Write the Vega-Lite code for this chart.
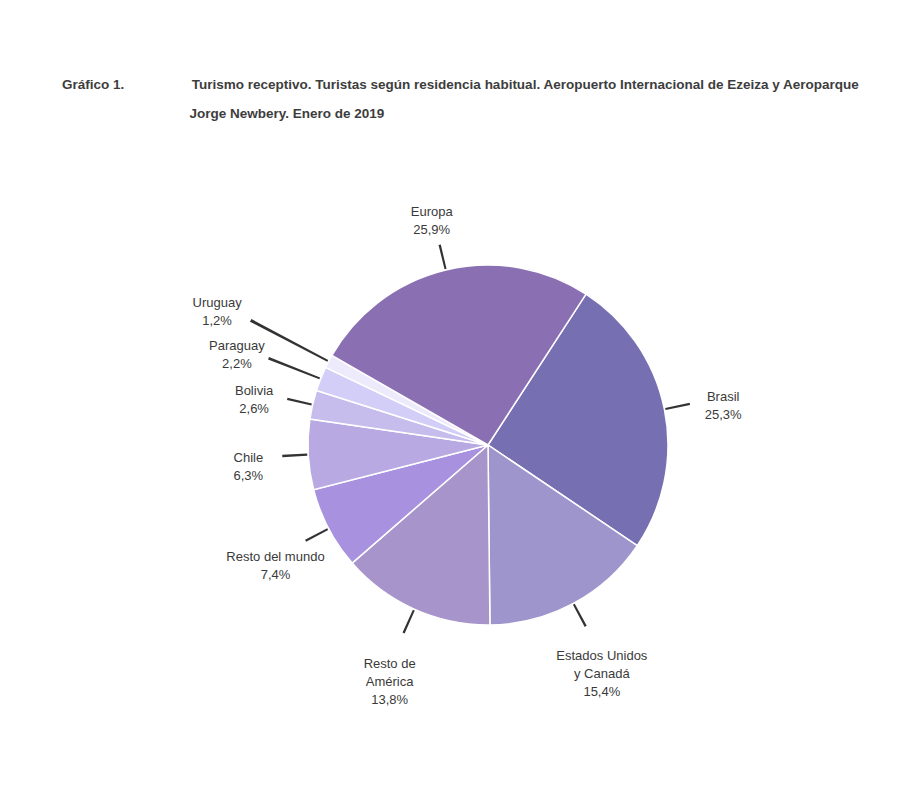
{
  "$schema": "https://vega.github.io/schema/vega-lite/v6.json",
  "autosize": {"type": "none"},
  "width": 852,
  "height": 610,
  "padding": {"left": 62, "top": 140, "right": 0, "bottom": 0},
  "background": "white",
  "config": {
    "view": {"stroke": null},
    "font": "Liberation Sans, Arial, sans-serif"
  },
  "title": {
    "text": [
      "Gráfico 1.\u00a0\u00a0\u00a0\u00a0\u00a0\u00a0\u00a0\u00a0\u00a0\u00a0\u00a0\u00a0\u00a0\u00a0\u00a0\u00a0\u00a0\u00a0Turismo receptivo. Turistas según residencia habitual. Aeropuerto Internacional de Ezeiza y Aeroparque",
      "\u200b\u00a0\u00a0\u00a0\u00a0\u00a0\u00a0\u00a0\u00a0\u00a0\u00a0\u00a0\u00a0\u00a0\u00a0\u00a0\u00a0\u00a0\u00a0\u00a0\u00a0\u00a0\u00a0\u00a0\u00a0\u00a0\u00a0\u00a0\u00a0\u00a0\u00a0\u00a0\u00a0\u00a0\u00a0Jorge Newbery. Enero de 2019"
    ],
    "anchor": "start",
    "frame": "group",
    "fontSize": 13.5,
    "fontWeight": "bold",
    "color": "#3d3d3d",
    "lineHeight": 29,
    "offset": 20
  },
  "data": {
    "values": [
      {"k": 1, "cat": "Brasil", "pct": 25.3, "label": "Brasil\n25,3%"},
      {"k": 2, "cat": "Estados Unidos y Canadá", "pct": 15.4, "label": "Estados Unidos\ny Canadá\n15,4%"},
      {"k": 3, "cat": "Resto de América", "pct": 13.8, "label": "Resto de\nAmérica\n13,8%"},
      {"k": 4, "cat": "Resto del mundo", "pct": 7.4, "label": "Resto del mundo\n7,4%"},
      {"k": 5, "cat": "Chile", "pct": 6.3, "label": "Chile\n6,3%"},
      {"k": 6, "cat": "Bolivia", "pct": 2.6, "label": "Bolivia\n2,6%"},
      {"k": 7, "cat": "Paraguay", "pct": 2.2, "label": "Paraguay\n2,2%"},
      {"k": 8, "cat": "Uruguay", "pct": 1.2, "label": "Uruguay\n1,2%"},
      {"k": 9, "cat": "Europa", "pct": 25.9, "label": "Europa\n25,9%"}
    ]
  },
  "transform": [
    {"window": [{"op": "sum", "field": "pct", "as": "cum"}], "sort": [{"field": "k"}]},
    {"calculate": "datum.cum - datum.pct", "as": "a0"},
    {"calculate": "datum.cum - datum.pct / 2", "as": "mid"},
    {"calculate": "datum.mid - 0.09", "as": "l0"},
    {"calculate": "datum.mid + 0.09", "as": "l1"}
  ],
  "layer": [
    {
      "mark": {"type": "arc", "outerRadius": 180, "stroke": "white", "strokeWidth": 1.5},
      "encoding": {
        "theta": {"field": "a0", "type": "quantitative", "scale": {"domain": [0, 100.1], "range": [0.576, 6.8592]}},
        "theta2": {"field": "cum"},
        "color": {
          "field": "cat",
          "type": "nominal",
          "legend": null,
          "scale": {
            "domain": ["Brasil", "Estados Unidos y Canadá", "Resto de América", "Resto del mundo", "Chile", "Bolivia", "Paraguay", "Uruguay", "Europa"],
            "range": ["#7670b2", "#9e95cc", "#a794ca", "#a892e0", "#b8a9e3", "#c6bdec", "#d3cef7", "#eceafb", "#8a70b3"]
          }
        }
      }
    },
    {
      "transform": [{"filter": "datum.cat != 'Paraguay' && datum.cat != 'Uruguay'"}],
      "layer": [
        {
          "mark": {"type": "arc", "innerRadius": 181, "outerRadius": 206, "fill": "#333333"},
          "encoding": {"theta": {"field": "l0", "type": "quantitative"}, "theta2": {"field": "l1"}}
        },
        {
          "mark": {"type": "text", "radius": 240, "lineBreak": "\n", "fontSize": 13, "color": "#3a3a3a", "lineHeight": 18},
          "encoding": {"theta": {"field": "mid", "type": "quantitative"}, "text": {"field": "label"}}
        }
      ]
    },
    {
      "transform": [{"filter": "datum.cat == 'Paraguay'"}],
      "layer": [
        {
          "mark": {"type": "arc", "innerRadius": 181, "outerRadius": 236, "fill": "#333333"},
          "encoding": {"theta": {"field": "l0", "type": "quantitative"}, "theta2": {"field": "l1"}}
        },
        {
          "mark": {"type": "text", "radius": 270, "lineBreak": "\n", "fontSize": 13, "color": "#3a3a3a", "lineHeight": 18},
          "encoding": {"theta": {"field": "mid", "type": "quantitative"}, "text": {"field": "label"}}
        }
      ]
    },
    {
      "transform": [{"filter": "datum.cat == 'Uruguay'"}],
      "layer": [
        {
          "mark": {"type": "arc", "innerRadius": 181, "outerRadius": 268, "fill": "#333333"},
          "encoding": {"theta": {"field": "l0", "type": "quantitative"}, "theta2": {"field": "l1"}}
        },
        {
          "mark": {"type": "text", "radius": 306, "lineBreak": "\n", "fontSize": 13, "color": "#3a3a3a", "lineHeight": 18},
          "encoding": {"theta": {"field": "mid", "type": "quantitative"}, "text": {"field": "label"}}
        }
      ]
    }
  ]
}
